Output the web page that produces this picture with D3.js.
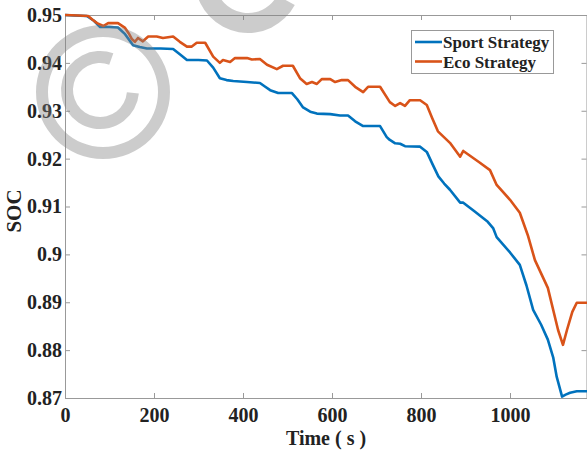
<!DOCTYPE html>
<html>
<head>
<meta charset="utf-8">
<script src="https://cdn.jsdelivr.net/npm/d3@7"></script>
<style>
  html, body { margin: 0; padding: 0; background: #fff; }
  svg { display: block; }
  text { font-family: "Liberation Serif", "Times New Roman", serif; font-weight: bold; fill: #222; }
</style>
</head>
<body>
<svg id="chart" width="587" height="450"></svg>
<script>
// State of charge over a drive cycle for two control strategies
const timeSport = [0, 20, 49, 65, 79, 100, 119, 135, 153, 168, 184, 215, 243, 258, 274, 300, 319, 333, 348, 363,
  378, 409, 438, 450, 461, 479, 510, 522, 535, 551, 566, 596, 618, 636, 652, 670, 708, 723, 730, 742,
  753, 764, 798, 813, 825, 839, 852, 865, 888, 895, 920, 950, 962, 970, 1000, 1022, 1037, 1052, 1070, 1085,
  1097, 1105, 1117, 1125, 1135, 1150, 1173];
const socSport = [0.9500, 0.9499, 0.9498, 0.9488, 0.9475, 0.9475, 0.9474, 0.9460, 0.9437, 0.9433, 0.9430, 0.9430,
  0.9429, 0.9418, 0.9406, 0.9406, 0.9405, 0.9390, 0.9368, 0.9364, 0.9362, 0.9360, 0.9358, 0.9350, 0.9343,
  0.9337, 0.9337, 0.9324, 0.9307, 0.9298, 0.9294, 0.9293, 0.9290, 0.9290, 0.9278, 0.9268, 0.9268, 0.9245,
  0.9239, 0.9232, 0.9231, 0.9226, 0.9225, 0.9214, 0.9190, 0.9163, 0.9148, 0.9135, 0.9108, 0.9108, 0.9090,
  0.9068, 0.9055, 0.9036, 0.9004, 0.8978, 0.8935, 0.8884, 0.8853, 0.8822, 0.8785, 0.8744, 0.8703, 0.8707,
  0.8711, 0.8714, 0.8714];

const timeEco = [0, 30, 52, 62, 72, 86, 97, 119, 135, 143, 150, 157, 164, 175, 187, 206, 220, 243, 258, 274,
  285, 296, 315, 333, 348, 355, 371, 382, 409, 420, 438, 454, 476, 490, 512, 528, 543, 555, 566, 577,
  596, 607, 622, 636, 652, 670, 681, 708, 730, 742, 753, 764, 775, 798, 813, 825, 838, 865, 888, 895,
  930, 955, 970, 1000, 1022, 1040, 1056, 1085, 1108, 1119, 1128, 1140, 1150, 1173];
const socEco = [0.9500, 0.9499, 0.9498, 0.9490, 0.9483, 0.9477, 0.9483, 0.9483, 0.9473, 0.9462, 0.9450, 0.9444,
  0.9452, 0.9445, 0.9455, 0.9455, 0.9452, 0.9455, 0.9444, 0.9434, 0.9434, 0.9442, 0.9442, 0.9413, 0.9400,
  0.9406, 0.9402, 0.9410, 0.9410, 0.9407, 0.9408, 0.9396, 0.9387, 0.9394, 0.9394, 0.9368, 0.9356, 0.9360,
  0.9356, 0.9366, 0.9366, 0.9360, 0.9364, 0.9364, 0.9350, 0.9339, 0.9350, 0.9350, 0.9318, 0.9310, 0.9316,
  0.9310, 0.9322, 0.9322, 0.9312, 0.9285, 0.9257, 0.9233, 0.9204, 0.9216, 0.9193, 0.9176, 0.9145, 0.9114,
  0.9087, 0.9040, 0.8988, 0.8930, 0.8842, 0.8811, 0.8842, 0.8880, 0.8899, 0.8899];

const seriesNames = ["Sport Strategy", "Eco Strategy"];
const seriesColors = ["#0072BD", "#D95319"];

const xTicks = [0, 200, 400, 600, 800, 1000];
const yTicks = [0.87, 0.88, 0.89, 0.90, 0.91, 0.92, 0.93, 0.94, 0.95];
const yTickLabels = ["0.87", "0.88", "0.89", "0.9", "0.91", "0.92", "0.93", "0.94", "0.95"];

const xTitle = "Time ( s )";
const yTitle = "SOC";

const svg = d3.select("#chart");
const plot = { left: 65, right: 587, top: 15, bottom: 398 };

const x = d3.scaleLinear().domain([0, 1173]).range([plot.left, plot.right]);
const y = d3.scaleLinear().domain([0.87, 0.95]).range([plot.bottom, plot.top]);

const axisColor = "#999";
const tickLen = 5;

function styleAxis(g) {
  g.attr("font-family", null).attr("font-size", null);
  g.selectAll("path.domain").attr("stroke", axisColor).attr("stroke-width", 1);
  g.selectAll(".tick line").attr("stroke", axisColor).attr("stroke-width", 1);
  g.selectAll(".tick text").attr("fill", "#222");
}

// bottom axis with labels
svg.append("g")
  .attr("transform", `translate(0,${plot.bottom})`)
  .call(d3.axisBottom(x).tickValues(xTicks).tickFormat(d3.format("d"))
    .tickSize(-tickLen).tickSizeOuter(0).tickPadding(10))
  .call(styleAxis)
  .selectAll("text").style("font-size", "20px");

// top axis, ticks only
svg.append("g")
  .attr("transform", `translate(0,${plot.top})`)
  .call(d3.axisTop(x).tickValues(xTicks).tickFormat("")
    .tickSize(-tickLen).tickSizeOuter(0))
  .call(styleAxis);

// left axis with labels
svg.append("g")
  .attr("transform", `translate(${plot.left},0)`)
  .call(d3.axisLeft(y).tickValues(yTicks).tickFormat((d, i) => yTickLabels[i])
    .tickSize(-tickLen).tickSizeOuter(0).tickPadding(3))
  .call(styleAxis)
  .selectAll("text").style("font-size", "20px");

// right axis, ticks only
svg.append("g")
  .attr("transform", `translate(${plot.right - 0.5},0)`)
  .call(d3.axisRight(y).tickValues(yTicks).tickFormat("")
    .tickSize(-tickLen).tickSizeOuter(0))
  .call(styleAxis);

// axis titles
svg.append("text")
  .attr("x", (plot.left + plot.right) / 2)
  .attr("y", 445)
  .attr("text-anchor", "middle")
  .style("font-size", "20px")
  .text(xTitle);

svg.append("text")
  .attr("transform", "translate(21,211) rotate(-90)")
  .attr("text-anchor", "middle")
  .style("font-size", "21px")
  .text(yTitle);

// SOC curves
const line = d3.line().x(d => x(d[0])).y(d => y(d[1]));
const series = [
  d3.zip(timeSport, socSport),
  d3.zip(timeEco, socEco)
];

svg.append("defs").append("clipPath").attr("id", "plot-clip")
  .append("rect").attr("x", plot.left).attr("y", plot.top - 3)
  .attr("width", plot.right - plot.left).attr("height", plot.bottom - plot.top + 6);

svg.append("g").attr("clip-path", "url(#plot-clip)")
  .selectAll("path.series")
  .data(series)
  .join("path")
  .attr("class", "series")
  .attr("fill", "none")
  .attr("stroke", (d, i) => seriesColors[i])
  .attr("stroke-width", 2.6)
  .attr("stroke-linejoin", "round")
  .attr("d", line);

// legend
const legend = svg.append("g");
legend.append("rect")
  .attr("x", 411.5).attr("y", 30.5).attr("width", 142).attr("height", 43)
  .attr("fill", "#fff").attr("stroke", axisColor).attr("stroke-width", 1);
seriesNames.forEach((name, i) => {
  const ly = 42 + i * 19.5;
  legend.append("line")
    .attr("x1", 415).attr("x2", 442).attr("y1", ly).attr("y2", ly)
    .attr("stroke", seriesColors[i]).attr("stroke-width", 2.6);
  legend.append("text")
    .attr("x", 443).attr("y", ly + 6)
    .style("font-size", "17px")
    .text(name);
});

// copyright mark laid over the figure
const mark = svg.append("g").attr("fill", "#7f7f7f").attr("fill-opacity", 0.4)
  .style("pointer-events", "none");
const ring = d3.arc();
mark.append("path")
  .attr("transform", "translate(103,92)")
  .attr("d", ring({ innerRadius: 55, outerRadius: 67, startAngle: 0, endAngle: 2 * Math.PI }));
mark.append("path")
  .attr("transform", "translate(100,90)")
  .attr("d", ring({ innerRadius: 27, outerRadius: 39,
    startAngle: 95 * Math.PI / 180, endAngle: 380 * Math.PI / 180 }));
mark.append("path")
  .attr("transform", "translate(248,-20)")
  .attr("d", ring({ innerRadius: 33, outerRadius: 53,
    startAngle: 118 * Math.PI / 180, endAngle: 262 * Math.PI / 180 }));
</script>
</body>
</html>
